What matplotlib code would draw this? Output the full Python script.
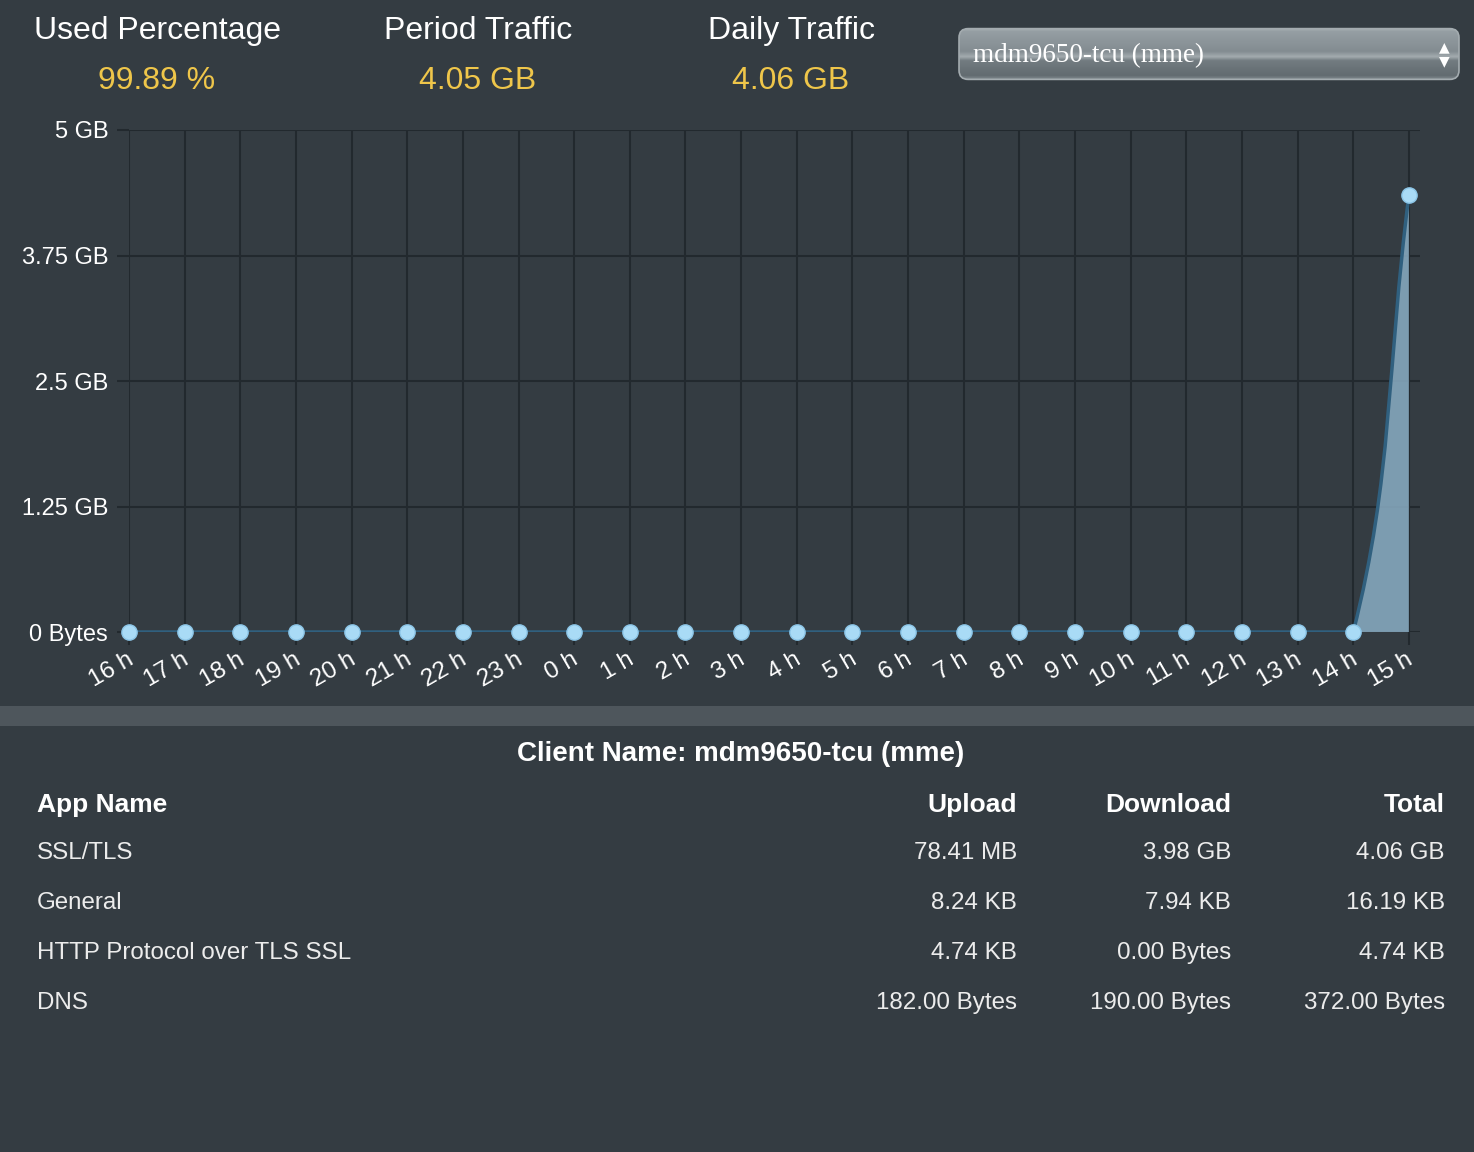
import numpy as np
import matplotlib
matplotlib.use('Agg')
import matplotlib.pyplot as plt
from matplotlib.path import Path
from matplotlib.patches import PathPatch, FancyBboxPatch, Rectangle
from matplotlib.colors import LinearSegmentedColormap

# datos
horas = ['16 h', '17 h', '18 h', '19 h', '20 h', '21 h', '22 h', '23 h',
         '0 h', '1 h', '2 h', '3 h', '4 h', '5 h', '6 h', '7 h',
         '8 h', '9 h', '10 h', '11 h', '12 h', '13 h', '14 h', '15 h']
trafico_gb = [0, 0, 0, 0, 0, 0, 0, 0, 0, 0, 0, 0,
              0, 0, 0, 0, 0, 0, 0, 0, 0, 0, 0, 4.35]
y_ticks = [0, 1.25, 2.5, 3.75, 5]
y_labels = ['0 Bytes', '1.25 GB', '2.5 GB', '3.75 GB', '5 GB']

resumen_titulos = ['Used Percentage', 'Period Traffic', 'Daily Traffic']
resumen_valores = ['99.89 %', '4.05 GB', '4.06 GB']
cliente = 'mdm9650-tcu (mme)'

columnas = ['App Name', 'Upload', 'Download', 'Total']
apps = ['SSL/TLS', 'General', 'HTTP Protocol over TLS SSL', 'DNS']
upload = ['78.41 MB', '8.24 KB', '4.74 KB', '182.00 Bytes']
download = ['3.98 GB', '7.94 KB', '0.00 Bytes', '190.00 Bytes']
total = ['4.06 GB', '16.19 KB', '4.74 KB', '372.00 Bytes']

# estilo
FONDO = '#343c42'
GRID = '#22292e'
BLANCO = '#ffffff'
AMARILLO = '#efc64a'
plt.rcParams['font.family'] = ['Liberation Sans', 'DejaVu Sans']

W, H = 1474, 1152
fig = plt.figure(figsize=(W / 100, H / 100), dpi=100, facecolor=FONDO)


def fx(px):
    return px / W


def fy(py):
    return 1 - py / H


# cabecera
for cx, tit, val in zip([157, 478, 791], resumen_titulos, resumen_valores):
    fig.text(fx(cx), fy(31), tit, color=BLANCO, fontsize=23, ha='center', va='center')
    fig.text(fx(cx), fy(81), val, color=AMARILLO, fontsize=23, ha='center', va='center')

# desplegable
ax_dd = fig.add_axes([fx(957), fy(81), fx(1461) - fx(957), fy(27) - fy(81)])
ax_dd.set_xlim(0, 1)
ax_dd.set_ylim(0, 1)
ax_dd.axis('off')
cmap_dd = LinearSegmentedColormap.from_list('dd', [
    (0.0, '#b0b8bc'), (0.08, '#959ea3'), (0.45, '#838c91'),
    (0.55, '#a3abaf'), (0.62, '#737c81'), (0.9, '#626b70'), (1.0, '#8f989d')])
grad = np.linspace(0, 1, 200).reshape(-1, 1)
img = ax_dd.imshow(grad, extent=[0, 1, 0, 1], aspect='auto', cmap=cmap_dd,
                   origin='upper')
caja = FancyBboxPatch((0.004, 0.03), 0.992, 0.94,
                      boxstyle='round,pad=0,rounding_size=0.018',
                      mutation_aspect=504 / 54,
                      fc='none', ec='#a4acb0', lw=1.2, transform=ax_dd.transData)
ax_dd.add_patch(caja)
img.set_clip_path(caja)
ax_dd.text(0.032, 0.47, cliente, color=BLANCO, fontsize=19.5,
           family=['Liberation Serif', 'DejaVu Serif'], va='center', ha='left')
ax_dd.text(0.966, 0.63, '▲', color=BLANCO, fontsize=10, ha='center', va='center',
           family='DejaVu Sans')
ax_dd.text(0.966, 0.37, '▼', color=BLANCO, fontsize=10, ha='center', va='center',
           family='DejaVu Sans')

# grafica
ax = fig.add_axes([fx(129), fy(632), fx(1420) - fx(129), fy(130) - fy(632)])
ax.set_facecolor(FONDO)
x = np.arange(len(horas))
y = np.array(trafico_gb, dtype=float)
ax.set_xlim(0, 23.2)
ax.set_ylim(0, 5)

# curva tipo spline (tension 0.4) calculada en pixeles
tr = ax.transData
pts = tr.transform(np.column_stack([x, y]))
t = 0.4
ins, outs = [], []
n = len(pts)
for i in range(n):
    f = pts[i - 1] if i > 0 else pts[i]
    m = pts[i]
    a = pts[i + 1] if i < n - 1 else pts[i]
    d01 = np.hypot(*(m - f))
    d12 = np.hypot(*(a - m))
    s = d01 + d12
    fa = t * d01 / s if s else 0
    fb = t * d12 / s if s else 0
    ins.append(m - fa * (a - f))
    outs.append(m + fb * (a - f))
ins = tr.inverted().transform(np.array(ins))
outs = tr.inverted().transform(np.array(outs))
ins[:, 1] = np.clip(ins[:, 1], 0, 5)
outs[:, 1] = np.clip(outs[:, 1], 0, 5)

verts = [(x[0], y[0])]
codes = [Path.MOVETO]
for i in range(n - 1):
    verts += [tuple(outs[i]), tuple(ins[i + 1]), (x[i + 1], y[i + 1])]
    codes += [Path.CURVE4] * 3
linea = Path(verts, codes)
relleno = Path(verts + [(x[-1], 0), (x[0], 0), (x[0], 0)],
               codes + [Path.LINETO, Path.LINETO, Path.CLOSEPOLY])
ax.add_patch(PathPatch(relleno, fc='#8aaec4', ec='none', alpha=0.85, zorder=2))
ax.add_patch(PathPatch(linea, fc='none', ec='#30607f', lw=2.5, zorder=3,
                       capstyle='round'))
ax.plot(x, y, 'o', ms=11, mfc='#a9dbf6', mec='#8cc6e8', mew=1, zorder=4,
        clip_on=False)

ax.set_xticks(x)
ax.set_xticklabels(horas, rotation=30, ha='right', rotation_mode='anchor')
ax.set_yticks(y_ticks)
ax.set_yticklabels(y_labels)
ax.grid(True, color=GRID, lw=1.5)
ax.set_axisbelow(True)
for sp in ax.spines.values():
    sp.set_visible(False)
ax.tick_params(axis='both', colors=GRID, width=1.5, length=9,
               labelcolor=BLANCO)
ax.tick_params(axis='x', pad=3, labelsize=17.5)
ax.tick_params(axis='y', pad=6, labelsize=17)
for lab in ax.get_xticklabels():
    lab.set_transform(lab.get_transform() + matplotlib.transforms.ScaledTranslation(-0.03, 0, fig.dpi_scale_trans))

# banda separadora
fig.patches.append(Rectangle((0, fy(726)), 1, fy(706) - fy(726), transform=fig.transFigure,
                             fc='#4e565c', ec='none'))

# tabla
fig.text(fx(741), fy(754), 'Client Name: ' + cliente, color=BLANCO, fontsize=20,
         fontweight='bold', ha='center', va='center')
col_x = [37, 1017, 1231, 1445]
fig.text(fx(col_x[0]), fy(805), columnas[0], color=BLANCO, fontsize=19,
         fontweight='bold', ha='left', va='center')
for cxp, c in zip(col_x[1:], columnas[1:]):
    fig.text(fx(cxp), fy(805), c, color=BLANCO, fontsize=19, fontweight='bold',
             ha='right', va='center')
for k, fila_y in enumerate([853, 903, 953, 1003]):
    fig.text(fx(col_x[0]), fy(fila_y), apps[k], color='#ececec', fontsize=17.4,
             ha='left', va='center')
    for cxp, col in zip(col_x[1:], [upload, download, total]):
        fig.text(fx(cxp), fy(fila_y), col[k], color='#ececec', fontsize=17.4,
                 ha='right', va='center')

plt.savefig('out.png', dpi=100, facecolor=FONDO)
